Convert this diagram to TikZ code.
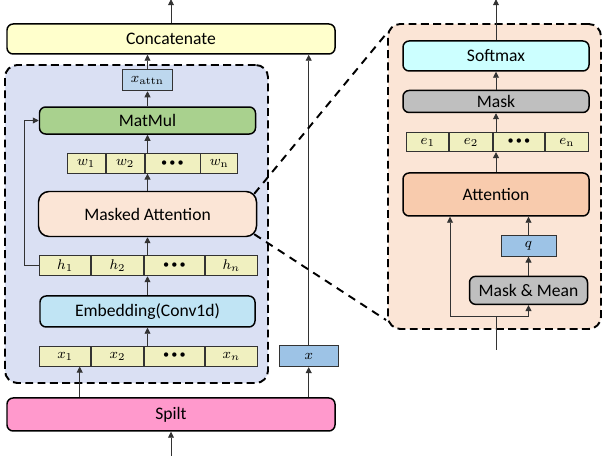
\documentclass[tikz,border=0pt]{standalone}
\usepackage{amsmath,amssymb}
\usepackage[no-math]{fontspec}
\setmainfont{Carlito}
\usetikzlibrary{arrows.meta,positioning,calc,backgrounds}
\definecolor{concatyellow}{HTML}{FFFFCC}
\definecolor{cellyellow}{HTML}{F0F0C0}
\definecolor{panelblue}{HTML}{DAE0F3}
\definecolor{panelorange}{HTML}{FBE5D6}
\definecolor{lightblue}{HTML}{BDD7EE}
\definecolor{midblue}{HTML}{9DC3E6}
\definecolor{embblue}{HTML}{C0E4F4}
\definecolor{matgreen}{HTML}{A9D18E}
\definecolor{spiltpink}{HTML}{FF99CC}
\definecolor{softcyan}{HTML}{CCFFFF}
\definecolor{maskgray}{HTML}{BFBFBF}
\definecolor{attnorange}{HTML}{F8CBAD}
\newcommand{\vdotsrow}{{\scriptsize\textbullet\hspace{1.2pt}\textbullet\hspace{1.2pt}\textbullet}}
\tikzset{block/.style={rectangle, rounded corners=3.5pt, draw=black, line width=0.85pt, align=center, inner sep=0pt}, cell/.style={rectangle, draw=black!80, line width=0.5pt, fill=cellyellow, minimum height=0.4cm, inner sep=0pt, font=\footnotesize}, vecbox/.style={rectangle, draw=black!80, line width=0.5pt, minimum height=0.42cm, inner sep=0pt, font=\footnotesize}, panel/.style={rectangle, rounded corners=7pt, draw=black, line width=1.1pt, dash pattern=on 4.5pt off 2.5pt}, arrow/.style={-{Triangle[length=1.2mm, width=1.2mm]}, line width=0.5pt, draw=black!80}, link/.style={line width=0.5pt, draw=black!80}, zoomline/.style={line width=1.1pt, dash pattern=on 4.5pt off 3.5pt}}

\begin{document}
\begin{tikzpicture}
\useasboundingbox (0,0) rectangle (12.04,9.16);
% dashed panels
\node[panel, fill=panelblue, minimum width=5.26cm, minimum height=6.36cm] (leftpanel) at (2.73,4.68) {};
\node[panel, fill=panelorange, minimum width=4.26cm, minimum height=6.1cm] (rightpanel) at (9.89,5.63) {};
% left branch
\node[block, fill=concatyellow, minimum width=6.56cm, minimum height=0.6cm] (concat) at (3.42,8.38) {Concatenate};
\node[block, fill=spiltpink, minimum width=6.56cm, minimum height=0.66cm] (spilt) at (3.42,0.87) {Spilt};
\node[block, fill=embblue, minimum width=4.3cm, minimum height=0.62cm] (emb) at (2.95,2.93) {Embedding(Conv1d)};
\node[block, fill=panelorange, minimum width=4.36cm, minimum height=0.9cm, rounded corners=6pt, above=1.16cm of emb] (mattn) {Masked Attention};
\node[block, fill=matgreen, minimum width=4.32cm, minimum height=0.54cm, above=1.12cm of mattn] (matmul) {MatMul};
\node[vecbox, fill=lightblue, minimum width=1.0cm, above=0.3cm of matmul] (xattn) {$x_{\mathrm{attn}}$};
\node[cell, minimum width=1.02cm, below right=0.36cm and 0cm of emb.south west] (x1) {$x_1$};
\node[cell, minimum width=1.04cm, right=0pt of x1] (x2) {$x_2$};
\node[cell, minimum width=1.2cm, right=0pt of x2] (xd) {\vdotsrow};
\node[cell, minimum width=1.04cm, right=0pt of xd] (xn) {$x_n$};
\node[cell, minimum width=1.02cm, above right=0.38cm and 0cm of emb.north west] (h1) {$h_1$};
\node[cell, minimum width=1.04cm, right=0pt of h1] (h2) {$h_2$};
\node[cell, minimum width=1.2cm, right=0pt of h2] (hd) {\vdotsrow};
\node[cell, minimum width=1.04cm, right=0pt of hd] (hn) {$h_n$};
\node[cell, minimum width=0.76cm, below right=0.36cm and 0.56cm of matmul.south west] (w1) {$w_1$};
\node[cell, minimum width=0.76cm, right=0pt of w1] (w2) {$w_2$};
\node[cell, minimum width=1.1cm, right=0pt of w2] (wd) {\vdotsrow};
\node[cell, minimum width=0.74cm, right=0pt of wd] (wn) {$w_{\mathrm{n}}$};
\node[vecbox, fill=midblue, minimum width=1.18cm, right=0.42cm of xn] (xbox) {$x$};
\coordinate[below=0.48cm of spilt.south] (inL);
\coordinate[above=0.48cm of concat.north] (outL);
% right branch
\node[block, fill=softcyan, minimum width=3.72cm, minimum height=0.6cm] (softmax) at (9.92,8.04) {Softmax};
\node[block, fill=maskgray, minimum width=3.72cm, minimum height=0.44cm, below=0.36cm of softmax] (mask) {Mask};
\node[block, fill=attnorange, minimum width=3.72cm, minimum height=0.86cm, below=1.18cm of mask] (attn) {Attention};
\node[cell, minimum width=0.84cm, minimum height=0.38cm, below right=0.38cm and 0.08cm of mask.south west] (e1) {$e_1$};
\node[cell, minimum width=0.86cm, minimum height=0.38cm, right=0pt of e1] (e2) {$e_2$};
\node[cell, minimum width=1.02cm, minimum height=0.38cm, right=0pt of e2] (ed) {\vdotsrow};
\node[cell, minimum width=0.86cm, minimum height=0.38cm, right=0pt of ed] (en) {$e_{\mathrm{n}}$};
\node[vecbox, fill=midblue, minimum width=1.1cm, below=0.36cm of attn, xshift=0.65cm] (q) {$q$};
\node[block, fill=maskgray, minimum width=2.36cm, minimum height=0.56cm, below=0.38cm of q] (mm) {Mask \& Mean};
\coordinate (inR) at (9.92,2.16);
\coordinate (fork) at (9.92,2.84);
\coordinate[above=0.82cm of softmax.north] (outR);
% connectors
\draw[arrow] (inL) -- (spilt);
\draw[arrow] ([xshift=0.29cm]x1.south |- spilt.north) -- ([xshift=0.29cm]x1.south);
\draw[arrow] (spilt.north -| xbox) -- (xbox);
\draw[arrow] (xbox) -- (xbox |- concat.south);
\draw[arrow] (emb |- x1.north) -- (emb);
\draw[arrow] (emb) -- (emb |- h1.south);
\draw[arrow] (mattn |- h1.north) -- (mattn);
\draw[arrow] (mattn) -- (mattn |- w1.south);
\draw[arrow] (matmul |- w1.north) -- (matmul);
\draw[arrow] (matmul) -- (xattn);
\draw[arrow] (xattn) -- (xattn |- concat.south);
\draw[arrow] (concat.north -| outL) -- (outL);
\draw[arrow] (h1.west) -- ++(-0.3,0) |- (matmul.west);
\draw[link] (inR) -- (fork);
\draw[arrow] (fork) -| ([xshift=-0.92cm]attn.south);
\draw[arrow] (fork) -| (mm.south);
\draw[arrow] (mm) -- (q);
\draw[arrow] (q) -- (q |- attn.south);
\draw[arrow] (attn) -- (attn |- e1.south);
\draw[arrow] (mask |- e1.north) -- (mask);
\draw[arrow] (mask) -- (softmax);
\draw[arrow] (softmax) -- (outR);
% zoom lines
\draw[zoomline] ($(mattn.north east)+(-0.06,-0.06)$) -- ($(rightpanel.north west)+(-0.02,-0.22)$);
\draw[zoomline] ($(mattn.south east)+(-0.06,0.06)$) -- ($(rightpanel.south west)+(-0.02,0.2)$);
\end{tikzpicture}
\end{document}
